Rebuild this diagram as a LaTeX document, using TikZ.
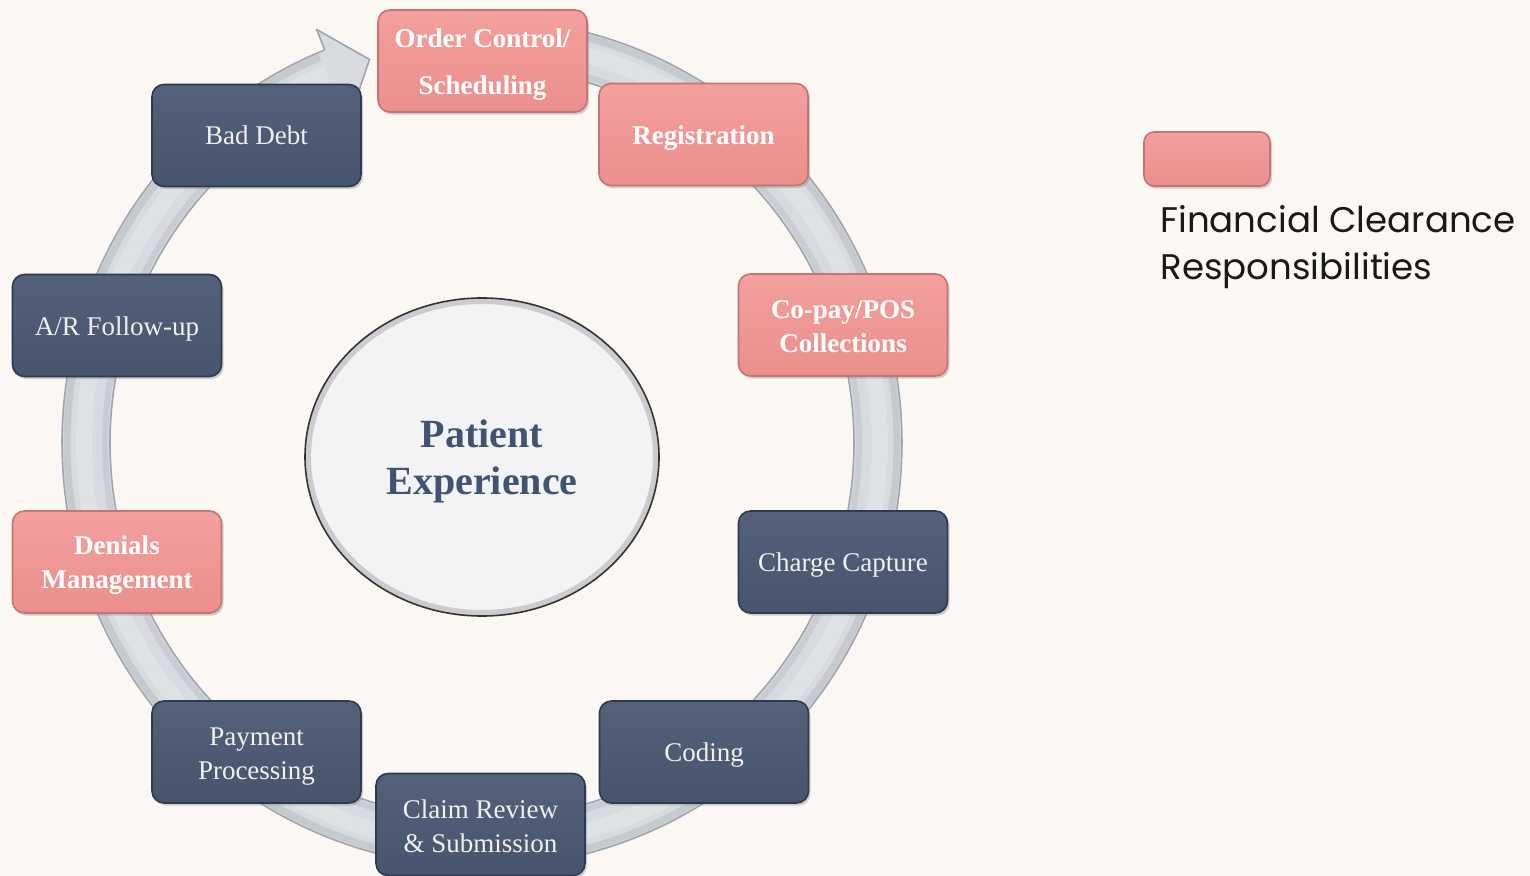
\documentclass[tikz,border=0pt]{standalone}
\usepackage{fontspec}
\setmainfont{Liberation Serif}
\newfontfamily\legendfont{Poppins}
\usetikzlibrary{shapes.geometric,shadows}
\definecolor{bg}{HTML}{FBF8F3}
\definecolor{pinkA}{HTML}{F2A09E}
\definecolor{pinkB}{HTML}{EB8F8D}
\definecolor{pinkE}{HTML}{C47472}
\definecolor{navyA}{HTML}{53627A}
\definecolor{navyB}{HTML}{46556D}
\definecolor{navyE}{HTML}{2E3A4D}
\definecolor{ringF}{HTML}{D7DBDF}
\definecolor{ringS}{HTML}{B4BAC1}
\definecolor{ringE}{HTML}{9FA5AD}
\definecolor{centerF}{HTML}{F3F2F4}
\definecolor{centerT}{HTML}{405371}
\begin{document}
\begin{tikzpicture}[x=0.5pt,y=-0.5pt,
  box/.style={rounded corners=6pt, minimum width=104.5pt, minimum height=51pt, inner sep=0pt, line width=0.8pt,
    drop shadow={opacity=0.35, shadow xshift=1pt, shadow yshift=-1.3pt}},
  pinkbox/.style={box, top color=pinkA, bottom color=pinkB, draw=pinkE},
  navybox/.style={box, top color=navyA, bottom color=navyB, draw=navyE},
  pinktext/.style={inner sep=0pt, align=center, text=white, font=\bfseries\fontsize{13.5}{17}\selectfont},
  navytext/.style={inner sep=0pt, align=center, text=white!94!black, font=\fontsize{13.5}{17}\selectfont},
  ringstyle/.style={fill=ringF, draw=ringE, line width=0.8pt, line join=round},
]
% background
\fill[bg] (0,0) rectangle (1530,876);
\useasboundingbox (0,0) rectangle (1530,876);

% ring with arrow head
\path[ringstyle]
  plot[domain=-248:95, samples=240] ({482+420*cos(-153-\x)},{443-424*sin(-153-\x)})
  -- ({482+396*1.115*cos(112)},{443-400*1.115*sin(112)})
  -- ({482+396*cos(106.5)},{443-400*sin(106.5)})
  -- ({482+396*0.885*cos(112)},{443-400*0.885*sin(112)})
  -- plot[domain=-248:95, samples=240] ({482+372*cos(\x)},{443-376*sin(\x)})
  -- cycle;
\draw[ringS, opacity=0.5, line width=3.5pt]
  plot[domain=-247:95, samples=240] ({482+415*cos(\x)},{443-419*sin(\x)});
\draw[ringS, opacity=0.4, line width=3pt]
  plot[domain=-247:95, samples=240] ({482+377*cos(\x)},{443-381*sin(\x)});
\draw[white, opacity=0.2, line width=8pt]
  plot[domain=-247:95, samples=240] ({482+398*cos(\x)},{443-402*sin(\x)});

% centre
\node[ellipse, minimum width=177pt, minimum height=159pt, inner sep=0pt, fill=centerF, draw=black!80, line width=0.8pt,
  path picture={\draw[black!20, line width=4pt] (path picture bounding box.center) ellipse [x radius=87.5pt, y radius=78.5pt];}] (pe) at (482,457) {};
\node[inner sep=0pt, align=center, text=centerT, font=\bfseries\fontsize{20}{23.5}\selectfont] (peT) at (482,461) {Patient\\Experience};

% steps
\node[pinkbox] (oc) at (482.5,61) {};
\node[pinktext, font=\bfseries\fontsize{13.5}{23.5}\selectfont] (ocT) at (482.5,65) {Order Control/\\Scheduling};
\node[pinkbox] (reg) at (703.5,134.5) {};
\node[pinktext] (regT) at (703.5,138) {Registration};
\node[pinkbox] (cop) at (843,325) {};
\node[pinktext] (copT) at (843,326.5) {Co-pay/POS\\Collections};
\node[navybox] (cc) at (843,562) {};
\node[navytext] (ccT) at (843,565) {Charge Capture};
\node[navybox] (cod) at (704,752) {};
\node[navytext] (codT) at (704,755) {Coding};
\node[navybox] (crs) at (480.5,824.5) {};
\node[navytext] (crsT) at (480.5,826.5) {Claim Review\\\& Submission};
\node[navybox] (pp) at (256.5,752) {};
\node[navytext] (ppT) at (256.5,756.5) {Payment\\Processing};
\node[pinkbox] (dm) at (117,562) {};
\node[pinktext] (dmT) at (117,565) {Denials\\Management};
\node[navybox] (ar) at (117,325.5) {};
\node[navytext] (arT) at (117,329.5) {A/R Follow-up};
\node[navybox] (bd) at (256.5,135.5) {};
\node[navytext] (bdT) at (256.5,135.5) {Bad Debt};

% legend
\node[pinkbox, minimum width=63pt, minimum height=27pt, rounded corners=5pt] (leg) at (1207,159) {};
\node[anchor=north west, inner sep=0pt, align=left, text=black!90, font=\legendfont\fontsize{17.8}{23.5}\selectfont] (legt) at (1160,205) {Financial Clearance\\Responsibilities};
\end{tikzpicture}
\end{document}
